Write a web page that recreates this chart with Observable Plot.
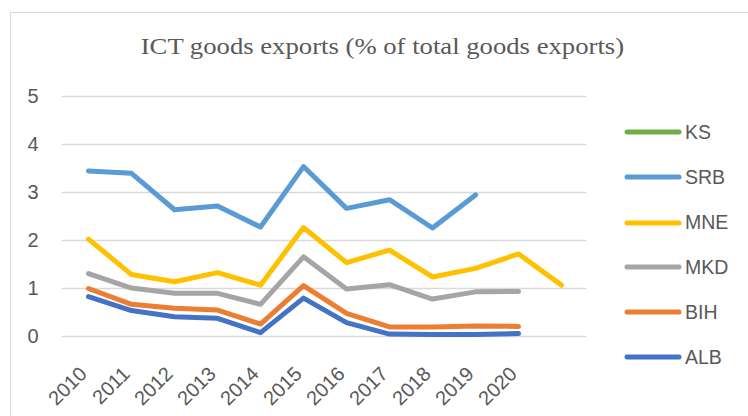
<!DOCTYPE html>
<html>
<head>
<meta charset="utf-8">
<script src="https://cdn.jsdelivr.net/npm/d3@7"></script>
<script src="https://cdn.jsdelivr.net/npm/@observablehq/plot@0.6"></script>
<style>
  html, body { margin: 0; padding: 0; background: #fff; overflow: hidden; }
  #wrap { position: relative; width: 748px; height: 416px; overflow: hidden; }
  #border { position: absolute; left: 10px; top: 12px; width: 900px; height: 600px; border: 1px solid #d9d9d9; box-sizing: border-box; }
  #title { position: absolute; left: 10px; top: 35px; width: 748px; text-align: center; font-family: "Liberation Serif", "Times New Roman", serif; font-size: 23px; line-height: 23px; color: #595959; transform: scaleX(1.16); transform-origin: 384px 0; white-space: nowrap; }
  #chart { position: absolute; left: 0; top: 0; }
  .leg { position: absolute; left: 624px; height: 24px; display: flex; align-items: center; font-family: "Liberation Sans", Arial, sans-serif; font-size: 19.5px; color: #595959; }
  .leg svg { margin-right: 3px; }
</style>
</head>
<body>
<div id="wrap">
  <div id="border"></div>
  <div id="chart"></div>
  <div id="title">ICT goods exports (% of total goods exports)</div>
</div>
<script>
const titleText = "ICT goods exports (% of total goods exports)";
const years = ["2010","2011","2012","2013","2014","2015","2016","2017","2018","2019","2020","2021"];
const tickLabels = ["2010","2011","2012","2013","2014","2015","2016","2017","2018","2019","2020",""];
const yTicks = [0, 1, 2, 3, 4, 5];
const seriesNames = ["KS", "SRB", "MNE", "MKD", "BIH", "ALB"];
const seriesColors = ["#70ad47", "#5b9bd5", "#ffc000", "#a5a5a5", "#ed7d31", "#4472c4"];

const KS  = [null, null, null, null, null, null, null, null, null, null, null, null];
const SRB = [3.45, 3.40, 2.64, 2.72, 2.28, 3.54, 2.67, 2.85, 2.26, 2.95, null, null];
const MNE = [2.03, 1.29, 1.14, 1.33, 1.07, 2.27, 1.54, 1.80, 1.24, 1.42, 1.72, 1.07];
const MKD = [1.31, 1.01, 0.90, 0.90, 0.67, 1.66, 0.99, 1.08, 0.78, 0.93, 0.94, null];
const BIH = [1.00, 0.67, 0.59, 0.55, 0.26, 1.06, 0.48, 0.20, 0.20, 0.22, 0.21, null];
const ALB = [0.83, 0.54, 0.41, 0.38, 0.08, 0.80, 0.29, 0.05, 0.04, 0.04, 0.06, null];

const seriesValues = [KS, SRB, MNE, MKD, BIH, ALB];
const data = [];
seriesNames.forEach((name, si) => {
  seriesValues[si].forEach((v, i) => {
    if (v != null) data.push({series: name, year: years[i], value: v});
  });
});

const labelMap = new Map(years.map((y, i) => [y, tickLabels[i]]));

const chart = Plot.plot({
  width: 748,
  height: 416,
  marginLeft: 62,
  marginRight: 162,
  marginTop: 96,
  marginBottom: 80,
  style: {background: "transparent", overflow: "visible"},
  x: {type: "point", domain: years, padding: 0.5},
  y: {domain: [0, 5]},
  color: {domain: seriesNames, range: seriesColors},
  marks: [
    Plot.gridY(yTicks, {stroke: "#d9d9d9", strokeOpacity: 1, strokeWidth: 1.3}),
    Plot.axisY(yTicks, {tickSize: 0, tickPadding: 24, fontSize: 20, fill: "#595959", fontFamily: "Liberation Sans, Arial, sans-serif", label: null}),
    Plot.axisX({tickSize: 0, tickRotate: -45, tickPadding: 34, dx: -5, fontSize: 20, fill: "#595959", fontFamily: "Liberation Sans, Arial, sans-serif", label: null, tickFormat: d => labelMap.get(d), textAnchor: "end"}),
    Plot.line(data, {x: "year", y: "value", z: "series", stroke: "series", strokeWidth: 5, strokeLinecap: "round", strokeLinejoin: "round"})
  ]
});
document.getElementById("chart").appendChild(chart);

const legendY = [132.3, 177.3, 222.7, 267.3, 312.3, 357.3];
const wrap = document.getElementById("wrap");
seriesNames.forEach((name, i) => {
  const d = document.createElement("div");
  d.className = "leg";
  d.style.top = (legendY[i] - 12) + "px";
  d.innerHTML = `<svg width="58" height="24"><line x1="3" y1="12" x2="55" y2="12" stroke="${seriesColors[i]}" stroke-width="5" stroke-linecap="round"/></svg><span>${name}</span>`;
  wrap.appendChild(d);
});
</script>
</body>
</html>
